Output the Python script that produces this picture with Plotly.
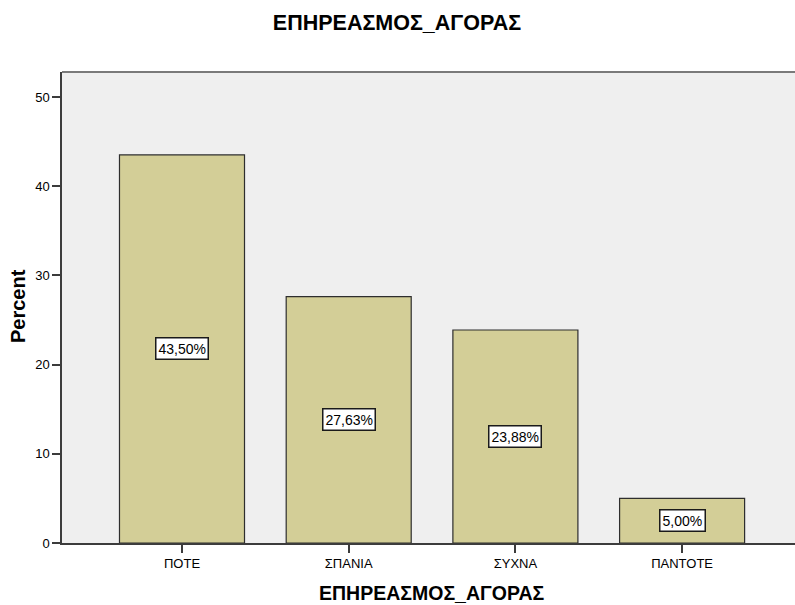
import plotly.graph_objects as go

categories = ["ΠΟΤΕ", "ΣΠΑΝΙΑ", "ΣΥΧΝΑ", "ΠΑΝΤΟΤΕ"]
percent = [43.50, 27.63, 23.88, 5.00]
labels = ["43,50%", "27,63%", "23,88%", "5,00%"]
y_ticks = [0, 10, 20, 30, 40, 50]
title_text = "ΕΠΗΡΕΑΣΜΟΣ_ΑΓΟΡΑΣ"
y_title = "Percent"

W, H = 795, 605
L, R, T, B = 62, 0, 72, 605 - 543
PW, PH = W - L - R, H - T - B

xpos = list(range(len(categories)))
FONT = "Liberation Sans, Arial, sans-serif"


def px_x(x):
    return (x - L) / PW


def px_y(y):
    return (H - B - y) / PH


fig = go.Figure()
fig.add_trace(go.Bar(
    x=xpos, y=percent, width=0.75,
    marker=dict(color="#D3CE97", line=dict(color="#2E2E2E", width=1.2)),
    hoverinfo="skip",
))

for xi, v, lab in zip(xpos, percent, labels):
    fig.add_annotation(
        x=xi, y=v / 2, xref="x", yref="y", text=lab, showarrow=False,
        font=dict(family=FONT, size=14, color="#000000"),
        bgcolor="#FFFFFF", bordercolor="#1A1A1A", borderwidth=1.5, borderpad=2,
    )

fig.update_layout(
    width=W, height=H,
    margin=dict(l=L, r=R, t=T, b=B, autoexpand=False),
    paper_bgcolor="#FFFFFF", plot_bgcolor="#EFEFEF",
    showlegend=False,
    font=dict(family=FONT, size=13, color="#000000"),
    title=dict(text="<b>" + title_text + "</b>", x=397 / W, xanchor="center",
               xref="container", y=1 - 22 / H, yanchor="middle", automargin=False,
               font=dict(family=FONT, size=21.5, color="#000000")),
)

x0_px = 182  # screen px of first category
step = 166.7
lo = -(x0_px - L) / step
hi = lo + PW / step

fig.update_xaxes(
    range=[lo, hi], tickvals=xpos, ticktext=categories, automargin=False,
    showgrid=False, zeroline=False, showline=True, linecolor="#3C3C3C", linewidth=1.5,
    ticks="outside", ticklen=8, tickcolor="#3C3C3C", tickwidth=1.5,
    tickfont=dict(family=FONT, size=13, color="#000000"),
)
fig.update_yaxes(
    range=[0, 52.8], tickvals=y_ticks, automargin=False,
    showgrid=False, zeroline=False, showline=True, linecolor="#3C3C3C", linewidth=1.5,
    ticks="outside", ticklen=8, tickcolor="#3C3C3C", tickwidth=1.5,
    tickfont=dict(family=FONT, size=13, color="#000000"),
)

# axis titles
fig.add_annotation(
    x=px_x(432), y=px_y(593), xref="paper", yref="paper", text="<b>" + title_text + "</b>",
    showarrow=False, xanchor="center", yanchor="middle",
    font=dict(family=FONT, size=19.5, color="#000000"),
)
fig.add_annotation(
    x=px_x(18), y=px_y(306), xref="paper", yref="paper", text="<b>" + y_title + "</b>",
    showarrow=False, xanchor="center", yanchor="middle", textangle=-90,
    font=dict(family=FONT, size=20, color="#000000"),
)

# top frame line
fig.add_shape(type="line", xref="paper", yref="paper", x0=0, x1=1, y0=1, y1=1,
              line=dict(color="#7A7A7A", width=2))

fig.write_html(
    "out.html",
    config={"displayModeBar": False},
    post_script="document.body.style.margin='0';document.body.style.overflow='hidden';",
)
